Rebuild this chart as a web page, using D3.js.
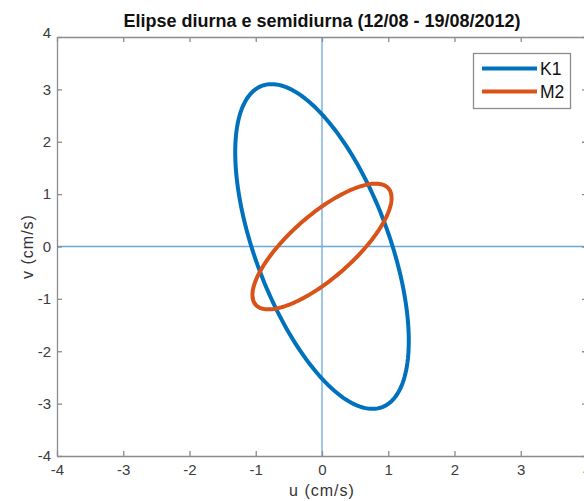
<!DOCTYPE html>
<html><head><meta charset="utf-8">
<script src="https://cdn.jsdelivr.net/npm/d3@7"></script>
<style>
html,body{margin:0;padding:0;background:#fff;}
svg{display:block;font-family:"Liberation Sans",Arial,Helvetica,sans-serif;}
</style></head>
<body>
<svg id="c" width="584" height="501"></svg>
<script>
// Tidal constituents (ellipse parameters)
const constituents = ["K1", "M2"];
const uAmplitude = [1.31, 1.05];   // cm/s
const vAmplitude = [3.10, 1.20];   // cm/s
const phaseLag = [125.5, 39.6];    // degrees, v lag relative to u
const colors = ["#0072BD", "#D95319"];
const xTicks = [-4, -3, -2, -1, 0, 1, 2, 3, 4];
const yTicks = [-4, -3, -2, -1, 0, 1, 2, 3, 4];
const titleText = "Elipse diurna e semidiurna (12/08 - 19/08/2012)";
const xLabel = "u (cm/s)";
const yLabel = "v (cm/s)";

const svg = d3.select("#c");
const L = 57, R = 587, T = 37, B = 456;
const x = d3.scaleLinear().domain([-4, 4]).range([L, R]);
const y = d3.scaleLinear().domain([-4, 4]).range([B, T]);

const axisColor = "#8c8c8c";
const textColor = "#3c3c3c";
const fmt = d => String(d); // plain hyphen-minus like the reference

// zero lines
svg.append("line").attr("x1", x(0)).attr("x2", x(0)).attr("y1", T).attr("y2", B)
  .attr("stroke", "#6aa8dc").attr("stroke-width", 1.3);
svg.append("line").attr("x1", L).attr("x2", R).attr("y1", y(0)).attr("y2", y(0))
  .attr("stroke", "#6aa8dc").attr("stroke-width", 1.3);

// ellipses
const ts = d3.range(0, 361, 2);
const line = d3.line().x(d => x(d[0])).y(d => y(d[1])).curve(d3.curveLinearClosed);
constituents.forEach((c, i) => {
  const dphi = phaseLag[i] * Math.PI / 180;
  const pts = ts.map(t => {
    const a = t * Math.PI / 180;
    return [uAmplitude[i] * Math.cos(a), vAmplitude[i] * Math.cos(a - dphi)];
  });
  svg.append("path").attr("d", line(pts)).attr("fill", "none")
    .attr("stroke", colors[i]).attr("stroke-width", 4).attr("stroke-linejoin", "round");
});

// axes (box with inward ticks)
const tickLen = 5;
const gB = svg.append("g").attr("transform", `translate(0,${B})`)
  .call(d3.axisBottom(x).tickValues(xTicks).tickSizeInner(-tickLen).tickSizeOuter(0).tickPadding(8).tickFormat(fmt));
const gT = svg.append("g").attr("transform", `translate(0,${T})`)
  .call(d3.axisTop(x).tickValues(xTicks).tickSizeInner(-tickLen).tickSizeOuter(0).tickFormat(""));
const gL = svg.append("g").attr("transform", `translate(${L},0)`)
  .call(d3.axisLeft(y).tickValues(yTicks).tickSizeInner(-tickLen).tickSizeOuter(0).tickPadding(6).tickFormat(fmt));
const gR = svg.append("g").attr("transform", `translate(${R},0)`)
  .call(d3.axisRight(y).tickValues(yTicks).tickSizeInner(-tickLen).tickSizeOuter(0).tickFormat(""));
[gB, gT, gL, gR].forEach(g => {
  g.select(".domain").attr("stroke", axisColor).attr("stroke-width", 1.3);
  g.selectAll(".tick line").attr("stroke", axisColor).attr("stroke-width", 1.3);
  g.selectAll(".tick text").attr("fill", textColor).attr("font-size", 15)
    .attr("font-family", "Liberation Sans, Arial, sans-serif");
});
// top y label sits slightly above its tick, as in the reference
gL.selectAll(".tick").filter(d => d === 4).select("text").attr("dy", "0.05em");

// title and labels
svg.append("text").attr("x", x(0)).attr("y", 27).attr("text-anchor", "middle")
  .attr("font-weight", "bold").attr("font-size", 18).attr("fill", "#111").text(titleText);
svg.append("text").attr("x", x(0)).attr("y", 496).attr("text-anchor", "middle")
  .attr("font-size", 16).attr("letter-spacing", 1).attr("fill", "#333").text(xLabel);
svg.append("text").attr("transform", `translate(33,${y(0)}) rotate(-90)`).attr("text-anchor", "middle")
  .attr("font-size", 16).attr("letter-spacing", 1).attr("fill", "#333").text(yLabel);

// legend
const lg = svg.append("g");
lg.append("rect").attr("x", 473.5).attr("y", 53.5).attr("width", 97).attr("height", 55)
  .attr("fill", "#fff").attr("stroke", axisColor).attr("stroke-width", 1.3);
constituents.forEach((c, i) => {
  const yy = 68.5 + i * 23;
  lg.append("line").attr("x1", 482).attr("x2", 537).attr("y1", yy).attr("y2", yy)
    .attr("stroke", colors[i]).attr("stroke-width", 4);
  lg.append("text").attr("x", 540).attr("y", yy + 6.5).attr("font-size", 17.5)
    .attr("fill", "#111").text(c);
});
</script>
</body></html>
